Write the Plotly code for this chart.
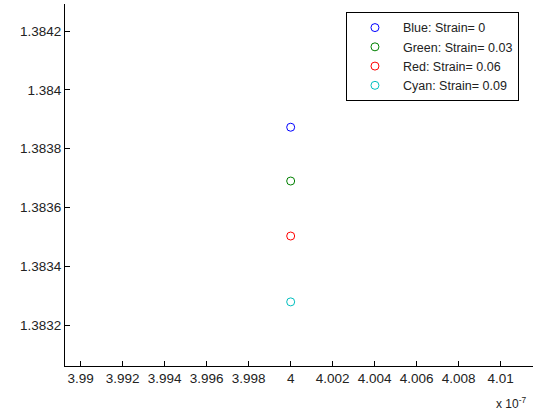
import plotly.graph_objects as go

# Data
wavelength = [4e-7, 4e-7, 4e-7, 4e-7]
neff = [1.383873, 1.383690, 1.383503, 1.383279]
series_names = ["Blue: Strain= 0", "Green: Strain= 0.03", "Red: Strain= 0.06", "Cyan: Strain= 0.09"]
series_colors = ["#0000ff", "#008000", "#ff0000", "#00bfbf"]

x_tick_vals = [3.990e-7, 3.992e-7, 3.994e-7, 3.996e-7, 3.998e-7, 4.000e-7,
               4.002e-7, 4.004e-7, 4.006e-7, 4.008e-7, 4.010e-7]
x_tick_text = ["3.99", "3.992", "3.994", "3.996", "3.998", "4",
               "4.002", "4.004", "4.006", "4.008", "4.01"]
y_tick_vals = [1.3832, 1.3834, 1.3836, 1.3838, 1.3840, 1.3842]
y_tick_text = ["1.3832", "1.3834", "1.3836", "1.3838", "1.384", "1.3842"]

fam = "Liberation Sans, Arial, sans-serif"
txt = "#222222"

fig = go.Figure()
for i in range(len(neff)):
    fig.add_trace(go.Scatter(
        x=[wavelength[i]], y=[neff[i]], mode="markers", name=series_names[i],
        marker=dict(symbol="circle-open", size=8, color=series_colors[i],
                    line=dict(width=1, color=series_colors[i])),
    ))

fig.update_layout(
    width=533, height=416,
    margin=dict(l=65, r=0, t=4, b=50),
    paper_bgcolor="white", plot_bgcolor="white",
    font=dict(family=fam, size=13.5, color=txt),
    showlegend=True,
    legend=dict(x=0.970, y=0.978, xanchor="right", yanchor="top",
                bgcolor="white", bordercolor="#000000", borderwidth=1,
                font=dict(family=fam, size=12.5, color=txt),
                itemwidth=46, tracegroupgap=0),
    xaxis=dict(range=[3.989254e-7, 4.011538e-7], tickvals=x_tick_vals, ticktext=x_tick_text,
               ticks="inside", ticklen=5, tickcolor="#000000", showgrid=False, zeroline=False,
               showline=True, linecolor="#000000", linewidth=1, mirror=False,
               tickfont=dict(family=fam, size=13.5, color=txt)),
    yaxis=dict(range=[1.383061, 1.384292], tickvals=y_tick_vals, ticktext=y_tick_text,
               ticks="inside", ticklen=5, tickcolor="#000000", showgrid=False, zeroline=False,
               showline=True, linecolor="#000000", linewidth=1, mirror=False,
               tickfont=dict(family=fam, size=13.5, color=txt)),
    annotations=[dict(text="x 10<sup>-7</sup>", x=0.99, y=-0.075, xref="paper", yref="paper",
                      xanchor="right", yanchor="top", showarrow=False,
                      font=dict(family=fam, size=12, color=txt))],
)

fig.write_html("out.html")
